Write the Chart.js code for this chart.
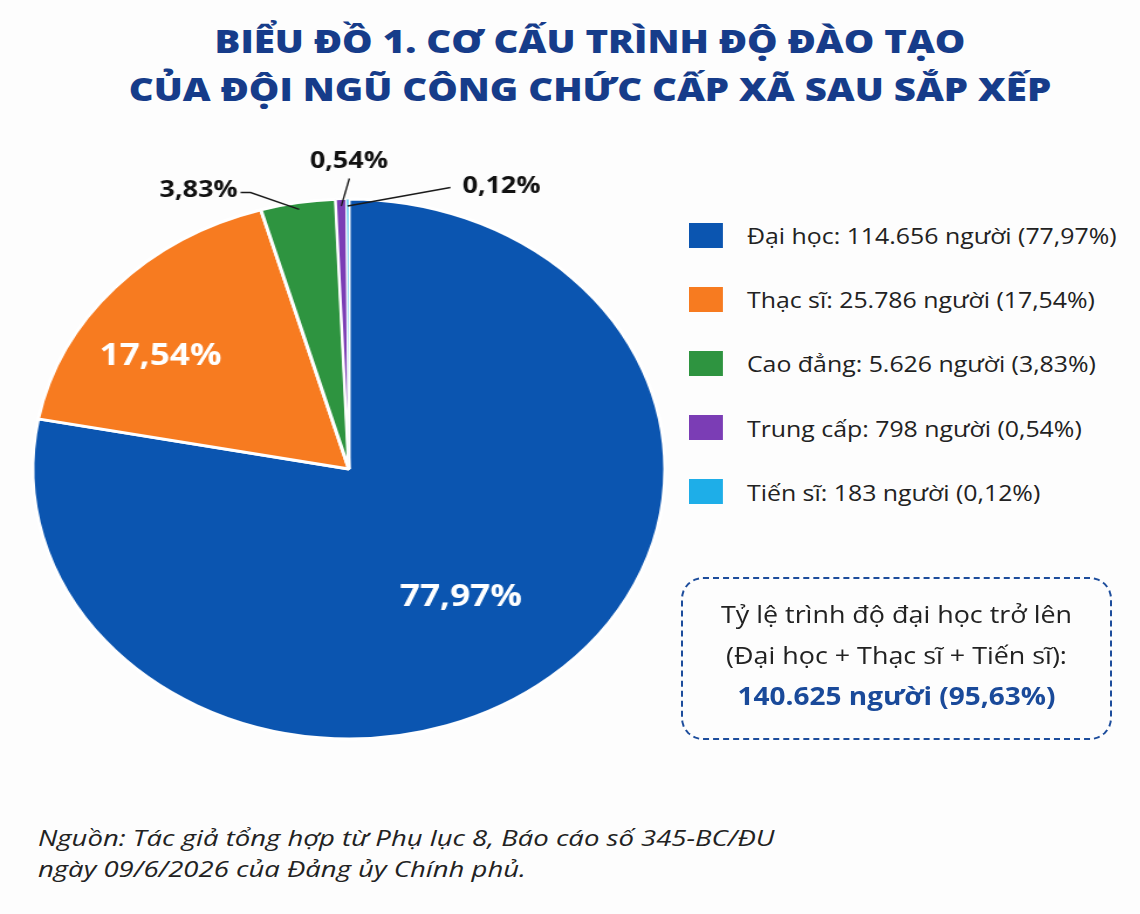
<!DOCTYPE html>
<html lang="vi">
<head>
<meta charset="utf-8">
<title>Biểu đồ 1. Cơ cấu trình độ đào tạo</title>
<script src="https://cdn.jsdelivr.net/npm/chart.js@4.4.1/dist/chart.umd.min.js"></script>
<style>
  body {
    margin: 0;
    width: 1140px;
    height: 914px;
    position: relative;
    overflow: hidden;
    background: #fdfdfd;
    font-family: 'Open Sans', sans-serif;
    color: #222;
  }
  /* the reference is stretched sideways, so text blocks get a scaleX too */
  .title {
    position: absolute;
    left: 20px;
    top: 17px;
    width: 1140px;
    text-align: center;
    color: #163c8a;
    font-weight: 800;
    font-size: 32px;
    line-height: 48px;
    transform: scaleX(1.2);
    transform-origin: 50% 0;
  }
  #pieWrap {
    position: absolute;
    left: 20.6px;
    top: 128.5px;
    width: 560px;
    height: 680px;
    transform: scaleX(1.171);
    transform-origin: 0 0;
  }
  #legend {
    position: absolute;
    left: 689px;
    top: 203px;
    transform: scaleX(1.13);
    transform-origin: 0 0;
  }
  .legend-row {
    display: flex;
    align-items: center;
    height: 64.2px;
    font-size: 22px;
    white-space: nowrap;
  }
  .legend-row .swatch {
    width: 30px;
    height: 25px;
    margin-right: 21.3px;
  }
  .summary {
    position: absolute;
    left: 681px;
    top: 577px;
    width: 431px;
    height: 163px;
    border: 2.5px dashed #1d4d9c;
    border-radius: 22px;
    box-sizing: border-box;
  }
  .summary .inner {
    position: absolute;
    left: 0;
    top: 14px;
    width: 100%;
    text-align: center;
    font-size: 24px;
    line-height: 41px;
    white-space: nowrap;
    transform: scaleX(1.12);
    transform-origin: 50% 0;
  }
  .summary b {
    color: #1a4a9a;
    font-weight: 700;
    font-size: 25px;
  }
  .source {
    position: absolute;
    left: 38px;
    top: 822px;
    font-size: 22px;
    font-style: italic;
    line-height: 31px;
    white-space: nowrap;
    transform: scaleX(1.25);
    transform-origin: 0 0;
  }
</style>
</head>
<body>
<div class="title">BIỂU ĐỒ 1. CƠ CẤU TRÌNH ĐỘ ĐÀO TẠO<br>CỦA ĐỘI NGŨ CÔNG CHỨC CẤP XÃ SAU SẮP XẾP</div>
<div id="pieWrap"><canvas id="trinhDoChart"></canvas></div>
<div id="legend"></div>
<div class="summary"><div class="inner" id="summary"></div></div>
<div class="source">Nguồn: Tác giả tổng hợp từ Phụ lục 8, Báo cáo số 345-BC/ĐU<br>ngày 09/6/2026 của Đảng ủy Chính phủ.</div>

<script>
// Dữ liệu
const categories = ['Đại học', 'Thạc sĩ', 'Cao đẳng', 'Trung cấp', 'Tiến sĩ'];
const counts = [114656, 25786, 5626, 798, 183];
const percents = [77.97, 17.54, 3.83, 0.54, 0.12];
const colors = ['#0b55b0', '#f77b20', '#2e9440', '#7b3db5', '#1eaee8'];

// vị trí nhãn (px, so với tâm hình tròn, trước khi kéo giãn)
const labelPlace = [
    { inside: true, r: 0.59, dx: -6, dy: 6 },
    { inside: true, r: 0.73, dx: -15, dy: 20 },
    { ex: -84, ey: -276.5, hx: -8.5, tx: -95, ty: -278.5, align: 'right' },
    { ex: 0.4, ey: -290.5, hx: 0, tx: 0, ty: -307.5, align: 'center' },
    { ex: 86.7, ey: -281.5, hx: 0, tx: 97, ty: -282.5, align: 'left' }
];

const fmtCount = v => String(v).replace(/\B(?=(\d{3})+(?!\d))/g, '.');
const fmtPct = p => p.toFixed(2).replace('.', ',') + '%';

// Chú giải
const legend = document.getElementById('legend');
categories.forEach((name, i) => {
    const row = document.createElement('div');
    row.className = 'legend-row';
    row.innerHTML = '<span class="swatch" style="background:' + colors[i] + '"></span>' +
        name + ': ' + fmtCount(counts[i]) + ' người (' + fmtPct(percents[i]) + ')';
    legend.appendChild(row);
});

// Ô tổng hợp: Đại học + Thạc sĩ + Tiến sĩ
const upper = [0, 1, 4];
const upperCount = upper.reduce((s, i) => s + counts[i], 0);
const upperPct = upper.reduce((s, i) => s + percents[i], 0);
document.getElementById('summary').innerHTML =
    'Tỷ lệ trình độ đại học trở lên<br>(Đại học + Thạc sĩ + Tiến sĩ):<br>' +
    '<b>' + fmtCount(upperCount) + ' người (' + fmtPct(upperPct) + ')</b>';

// Nhãn phần trăm trên lát bánh
const sliceLabels = {
    id: 'sliceLabels',
    afterDatasetsDraw(chart) {
        const ctx = chart.ctx;
        chart.getDatasetMeta(0).data.forEach((arc, i) => {
            const { x, y, startAngle, endAngle, outerRadius } =
                arc.getProps(['x', 'y', 'startAngle', 'endAngle', 'outerRadius'], true);
            const mid = (startAngle + endAngle) / 2;
            const place = labelPlace[i];
            const text = fmtPct(percents[i]);
            ctx.save();
            ctx.textBaseline = 'middle';
            if (place.inside) {
                const r = outerRadius * place.r;
                ctx.fillStyle = '#ffffff';
                ctx.font = '700 30px "Open Sans"';
                ctx.textAlign = 'center';
                ctx.fillText(text, x + Math.cos(mid) * r + place.dx, y + Math.sin(mid) * r + place.dy);
            } else {
                const r = outerRadius - 7;
                ctx.strokeStyle = '#1a1a1a';
                ctx.lineWidth = 1.4;
                ctx.beginPath();
                ctx.moveTo(x + Math.cos(mid) * r, y + Math.sin(mid) * r);
                ctx.lineTo(x + place.ex, y + place.ey);
                if (place.hx) ctx.lineTo(x + place.ex + place.hx, y + place.ey);
                ctx.stroke();
                ctx.fillStyle = '#111111';
                ctx.font = '700 23px "Open Sans"';
                ctx.textAlign = place.align;
                ctx.fillText(text, x + place.tx, y + place.ty);
            }
            ctx.restore();
        });
    }
};

new Chart(document.getElementById('trinhDoChart'), {
    type: 'pie',
    data: {
        labels: categories,
        datasets: [{
            data: counts,
            backgroundColor: colors,
            borderColor: '#ffffff',
            borderWidth: [3, 3, 3, 2, 1],
            radius: 270
        }]
    },
    options: {
        responsive: true,
        maintainAspectRatio: false,
        animation: false,
        layout: { padding: 0 },
        plugins: {
            legend: { display: false },
            tooltip: { enabled: false }
        }
    },
    plugins: [sliceLabels]
});
</script>
</body>
</html>
